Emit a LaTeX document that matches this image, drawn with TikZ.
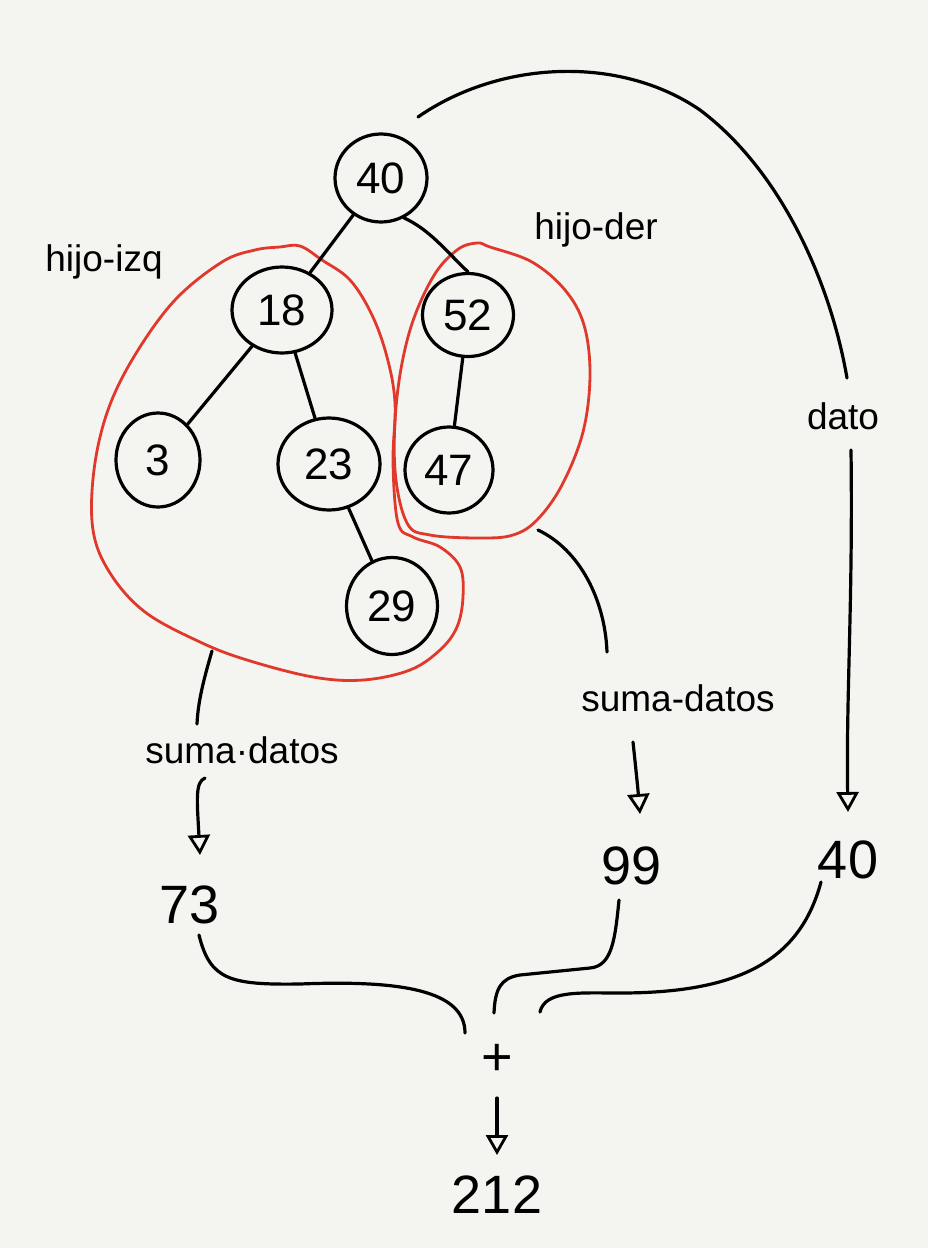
\documentclass[tikz,border=0pt]{standalone}
\usepackage{fontspec}
\setmainfont{Liberation Sans}
\usetikzlibrary{arrows.meta,shapes.geometric}
\definecolor{redink}{HTML}{E0392B}
\definecolor{paper}{HTML}{F4F4F1}
\begin{document}
\begin{tikzpicture}[x=1pt,y=-1pt,
  ink/.style={line width=3.2pt, line cap=round, line join=round, draw=black},
  tnode/.style={ellipse, draw, line width=3.2pt, minimum width=92pt, minimum height=88pt, inner sep=0pt, font=\fontsize{44}{48}\selectfont},
  lbl/.style={font=\fontsize{37}{40}\selectfont, inner sep=2pt},
  num/.style={font=\fontsize{54}{58}\selectfont, inner sep=2pt},
  hull/.style={draw=redink, line width=2.8pt, line cap=round},
  tip/.style={-{Triangle[open,length=20pt,width=22pt,line width=2.8pt]}},
]
\fill[paper] (0,0) rectangle (928,1248);
\useasboundingbox (0,0) rectangle (928,1248);

% tree nodes
\node[tnode] (n40) at (381,178) {40};
\node[tnode, minimum width=100pt, minimum height=86pt] (n18) at (282,310) {18};
\node[tnode, minimum width=91pt, minimum height=83pt] (n52) at (468,315) {52};
\node[tnode, minimum width=84pt, minimum height=94pt] (n3) at (158,460) {3};
\node[tnode, minimum width=102pt, minimum height=92pt] (n23) at (329,464) {23};
\node[tnode, minimum width=88pt, minimum height=86pt] (n47) at (449,470) {47};
\node[tnode, minimum width=91pt, minimum height=97pt] (n29) at (392,606) {29};

% labels and results
\node[lbl] (hizq) at (104,262) {hijo-izq};
\node[lbl] (hder) at (596,230) {hijo-der};
\node[lbl] (dato) at (843,416) {dato};
\node[lbl] (sdL) at (242,750) {suma·datos};
\node[lbl] (sdR) at (678,698) {suma-datos};
\node[num] (r73) at (190,905) {73};
\node[num] (r99) at (632,866) {99};
\node[num] (r40) at (848,860) {40};
\node[num] (plus) at (497,1060) {+};
\node[num] (res) at (497,1195) {212};

% red groupings
\draw[hull] plot[smooth cycle, tension=0.6] coordinates {
 (300,246) (322,260) (350,280) (372,315) (387,357) (395,403) (393,463)
 (398,523) (413,537) (440,547) (460,567) (463,597) (457,627) (440,650)
 (410,670) (363,680) (313,677) (247,660) (200,642) (145,612) (110,573)
 (93,530) (94,470) (108,410) (135,355) (175,300) (222,262) (255,250) (280,247)};
\draw[hull] plot[smooth cycle, tension=0.6] coordinates {
 (490,247) (532,262) (565,290) (584,325) (590,375) (583,432) (562,485)
 (537,520) (513,535) (480,538) (430,535) (407,523) (395,470) (397,397)
 (410,330) (433,277) (457,250) (477,243)};

% tree edges
\draw[ink] (n40) -- (n18);
\draw[ink] (n40.-60) .. controls (430,230) and (445,250) .. (n52.north);
\draw[ink] (n18) -- (n3);
\draw[ink] (n18) -- (n23);
\draw[ink] (n52) -- (n47);
\draw[ink] (n23) -- (n29);

% free ends
\coordinate (topStart) at (418,117);
\coordinate (datoIn) at (847,378);
\coordinate (datoOut) at (851,450);
\coordinate (r40In) at (848,812);
\coordinate (rBlob) at (538,530);
\coordinate (sdRIn) at (607,652);
\coordinate (sdROut) at (633,742);
\coordinate (r99In) at (640,814);
\coordinate (lBlob) at (212,651);
\coordinate (sdLIn) at (197,724);
\coordinate (sdLOut) at (205,778);
\coordinate (r73In) at (200,855);
\coordinate (r73Out) at (199,935);
\coordinate (r99Out) at (619,900);
\coordinate (r40Out) at (821,882);
\coordinate (plusA) at (465,1033);
\coordinate (plusB) at (494,1013);
\coordinate (plusC) at (540,1012);
\coordinate (plusOut) at (497,1098);
\coordinate (resIn) at (497,1155);

% datum path
\draw[ink] (topStart) .. controls (500,60) and (620,55) .. (700,110)
  .. controls (780,170) and (830,280) .. (datoIn);
\draw[ink, tip] (datoOut) .. controls (853,600) and (846,700) .. (r40In);

% right subtree path
\draw[ink] (rBlob) .. controls (580,550) and (605,600) .. (sdRIn);
\draw[ink, tip] (sdROut) .. controls (636,770) and (638,790) .. (r99In);

% left subtree path
\draw[ink] (lBlob) .. controls (205,675) and (198,700) .. (sdLIn);
\draw[ink, tip] (sdLOut) .. controls (195,782) and (197,800) .. (r73In);

% sums
\draw[ink] (r73Out) .. controls (210,980) and (230,985) .. (300,984)
  .. controls (400,980) and (465,990) .. (plusA);
\draw[ink] (r99Out) .. controls (615,940) and (612,966) .. (590,968)
  -- (520,975) .. controls (500,978) and (495,990) .. (plusB);
\draw[ink] (r40Out) .. controls (800,960) and (740,993) .. (620,993)
  .. controls (580,993) and (545,990) .. (plusC);
\draw[ink, tip] (plusOut) -- (resIn);
\end{tikzpicture}
\end{document}
